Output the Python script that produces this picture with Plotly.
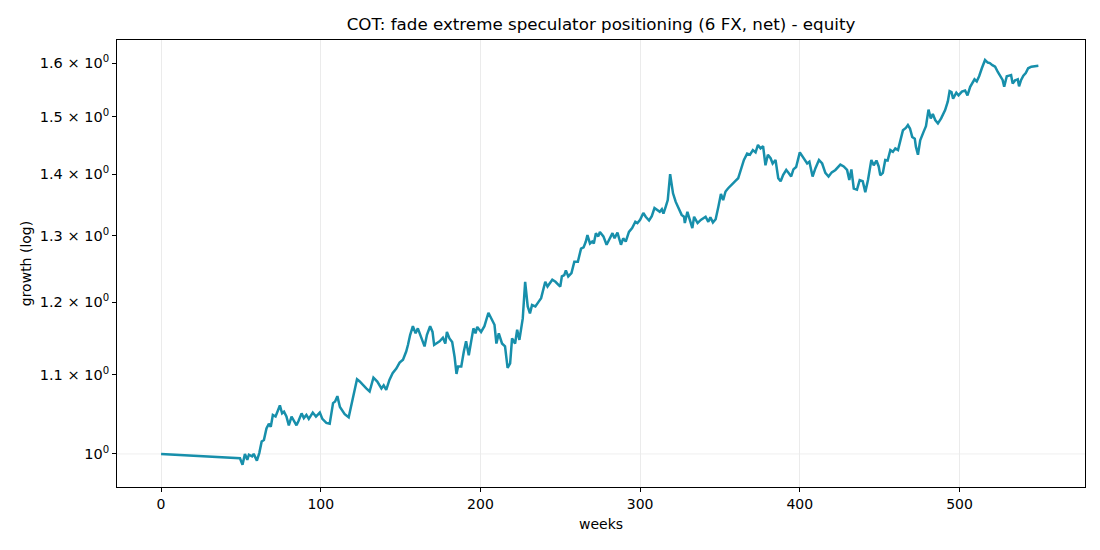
import plotly.graph_objects as go

# ---- data ----
weeks = [
    0, 49.4, 51, 52.5, 54, 55, 57, 58, 60, 61.5, 63, 64.4, 66, 67.5, 68.7, 70, 71.7, 73, 74.4, 75.8,
    77, 78.5, 80, 81.7, 83, 84.8, 86, 88, 89.4, 91, 92.5, 95, 97, 99.4, 101, 103.5, 105.6, 107.7, 109, 110.4,
    112, 115, 117.5, 119.6, 121, 122.7, 124.4, 126.5, 128.5, 130.6,
    133, 135.4, 138, 139.4, 141, 143, 145, 147.3, 149.4, 151.5, 153.5, 154.6, 156, 157.7, 159.4, 160.8,
    163, 165, 166.5, 168.5, 170, 171, 174.4, 176.5, 178, 179, 180.6, 182.3, 183.8, 185, 186, 188, 189.6,
    191, 192.7, 194, 195.6, 196.9, 198, 200.4, 202.5, 205, 206.7, 208.8, 210, 211.5, 213.5, 215.4, 217,
    218.6, 219.8, 221.7, 223, 224.4, 226.5,
    228, 229.6, 231, 232.3, 234.4, 236.5, 238, 240.6, 242, 245, 247, 249, 250, 251, 252.5, 253.5, 255,
    257, 258.8, 261, 263, 264.6, 266, 267, 268.6, 270, 271, 272.3, 273.8, 274.8, 277, 279, 281, 282.7,
    284, 285.8, 288, 289.4, 291, 293, 295, 297, 298.3, 300, 302, 303.5, 305.6, 307.3, 309, 310.8, 312.3,
    313.6, 314.6, 316, 317.3, 318.8, 320.6, 322.3, 324.4, 326, 327.5, 328, 329.6,
    332.7, 333.8, 336, 338, 341, 342.7, 344, 345.6, 347.3, 349, 350.6, 352, 353.5, 355, 357.3, 359.4,
    361.4, 363.6, 365, 367, 368.8, 370.6, 372.3, 373.8, 375.4, 377, 378.5, 380, 381.7, 383, 384.8, 386.5,
    388, 389.6, 391.5, 393, 394.6, 396, 397.7, 400, 401.5, 403, 404.6, 406, 408, 409.8, 412, 414, 416,
    418, 420, 422.3, 423.8, 425.4, 427.5, 429.6, 431, 432.3, 433.8, 435.8, 437.5, 439.4, 441,
    442.7, 444.8, 446.3, 448, 449.4, 450.4, 452, 453.5, 455, 456.7, 458.3, 459.8, 461.5, 463, 464.6,
    466.4, 467.7, 469, 470.4, 472, 472.7, 474, 475.4, 477.5, 479, 480.6, 482, 483.3, 484.8, 486.5, 488.5,
    491, 492.7, 493.8, 495, 496, 498, 499.4, 501.5, 503.5, 505, 506.7, 508, 509.4, 510.8, 512.3, 514,
    516, 517.7, 519, 520.6, 522.3, 524, 525.4, 527, 528, 529.6, 531, 532.3, 533.3, 534.8, 536.5, 537.3,
    538.6, 540, 541.5, 543, 545, 547.3, 549.4,
]
growth = [
    1.000, 0.9948, 0.987, 1.000, 0.993, 0.999, 0.997, 1.000, 0.992, 1.001, 1.015, 1.017, 1.031, 1.037, 1.033, 1.048, 1.046, 1.054, 1.060, 1.050,
    1.052, 1.046, 1.035, 1.046, 1.042, 1.035, 1.040, 1.050, 1.044, 1.048, 1.043, 1.051, 1.046, 1.051, 1.043, 1.038, 1.037, 1.063, 1.065, 1.072,
    1.058, 1.049, 1.045, 1.065, 1.076, 1.094, 1.091, 1.086, 1.082, 1.078,
    1.096, 1.091, 1.082, 1.086, 1.080, 1.093, 1.102, 1.108, 1.116, 1.120, 1.131, 1.140, 1.154, 1.166, 1.156, 1.163,
    1.149, 1.138, 1.154, 1.166, 1.158, 1.140, 1.145, 1.150, 1.142, 1.158, 1.149, 1.144, 1.124, 1.101, 1.111, 1.111, 1.131,
    1.145, 1.126, 1.145, 1.163, 1.156, 1.165, 1.158, 1.166, 1.185, 1.177, 1.168, 1.142, 1.156, 1.142, 1.138, 1.109,
    1.115, 1.149, 1.142, 1.161, 1.147, 1.177,
    1.230, 1.194, 1.184, 1.196, 1.194, 1.201, 1.206, 1.230, 1.223, 1.233, 1.230, 1.225, 1.223, 1.238, 1.240, 1.247, 1.238,
    1.243, 1.260, 1.260, 1.280, 1.282, 1.291, 1.301, 1.288, 1.291, 1.288, 1.304, 1.299, 1.306, 1.299, 1.286, 1.296, 1.304,
    1.296, 1.305, 1.286, 1.296, 1.291, 1.306, 1.312, 1.322, 1.320, 1.325, 1.336, 1.330, 1.324, 1.331, 1.344, 1.341, 1.338,
    1.342, 1.335, 1.346, 1.357, 1.400, 1.368, 1.354, 1.341, 1.333, 1.330, 1.320, 1.338,
    1.312, 1.330, 1.320, 1.325, 1.330, 1.322, 1.329, 1.321, 1.326, 1.346, 1.367, 1.357, 1.371, 1.376, 1.383, 1.388,
    1.393, 1.412, 1.424, 1.435, 1.433, 1.441, 1.437, 1.450, 1.444, 1.448, 1.415, 1.433, 1.427, 1.418, 1.424, 1.393,
    1.388, 1.399, 1.407, 1.402, 1.396, 1.408, 1.412, 1.437, 1.430, 1.423, 1.418, 1.421, 1.396, 1.410, 1.424, 1.418, 1.402,
    1.396, 1.403, 1.407, 1.412, 1.416, 1.413, 1.407, 1.390, 1.408, 1.376, 1.374, 1.390, 1.388, 1.370,
    1.390, 1.424, 1.415, 1.423, 1.413, 1.398, 1.402, 1.424, 1.423, 1.441, 1.438, 1.444, 1.441, 1.458, 1.476,
    1.480, 1.485, 1.479, 1.464, 1.461, 1.447, 1.433, 1.458, 1.473, 1.483, 1.513, 1.497, 1.505, 1.494, 1.488, 1.497,
    1.512, 1.528, 1.547, 1.545, 1.533, 1.544, 1.539, 1.546, 1.548, 1.539, 1.555, 1.561, 1.569, 1.565, 1.575, 1.590,
    1.606, 1.601, 1.600, 1.596, 1.593, 1.583, 1.575, 1.568, 1.555, 1.575, 1.576, 1.577, 1.561, 1.567, 1.569, 1.556,
    1.568, 1.576, 1.581, 1.590, 1.593, 1.594, 1.595,
]

x_ticks = [0, 100, 200, 300, 400, 500]
y_ticks = [1.0, 1.1, 1.2, 1.3, 1.4, 1.5, 1.6]
y_tick_labels = ["10<sup>0</sup>"] + [
    f"{v:.1f} × 10<sup>0</sup>" for v in y_ticks[1:]
]

FONT = "DejaVu Sans"
LINE_COLOR = "#178fab"
GRID = "#ebebeb"

# page body has an 8px margin: size the figure so the plot lands where the reference has it
W, H, OFF = 1092, 542, 8

fig = go.Figure()
fig.add_trace(go.Scatter(
    x=weeks, y=growth, mode="lines",
    line=dict(color=LINE_COLOR, width=2.5),
    showlegend=False,
))

# matplotlib-style: grid only at the major (decade) tick
fig.add_hline(y=1.0, line=dict(color=GRID, width=0.8), layer="below")

fig.update_layout(
    width=W, height=H,
    paper_bgcolor="white", plot_bgcolor="white",
    margin=dict(l=117 - OFF, r=15, t=40 - OFF, b=63),
    font=dict(family=FONT, size=14, color="#000000"),
    title=dict(
        text="COT: fade extreme speculator positioning (6 FX, net) - equity",
        x=(601 - OFF) / W, xanchor="center", y=1 - (24 - OFF) / H, yanchor="middle",
        yref="container", xref="container",
        font=dict(family=FONT, size=16.7, color="#000000"),
    ),
)
fig.update_xaxes(
    range=[-27.6, 578.6],
    tickvals=x_ticks, ticktext=[str(t) for t in x_ticks],
    showgrid=True, gridcolor=GRID, gridwidth=0.8, zeroline=False,
    ticks="outside", ticklen=4, tickwidth=0.8, tickcolor="black",
    showline=True, linecolor="black", linewidth=1, mirror=True,
    tickfont=dict(size=14),
    title=dict(text="weeks", font=dict(size=14), standoff=8),
)
fig.update_yaxes(
    type="log",
    range=[-0.01728, 0.21617],
    tickvals=y_ticks, ticktext=y_tick_labels,
    showgrid=False, zeroline=False,
    ticks="outside", ticklen=4, tickwidth=0.8, tickcolor="black",
    showline=True, linecolor="black", linewidth=1, mirror=True,
    tickfont=dict(size=14.5),
    title=dict(text="growth (log)", font=dict(size=14), standoff=4),
)

fig.write_html("out.html")
